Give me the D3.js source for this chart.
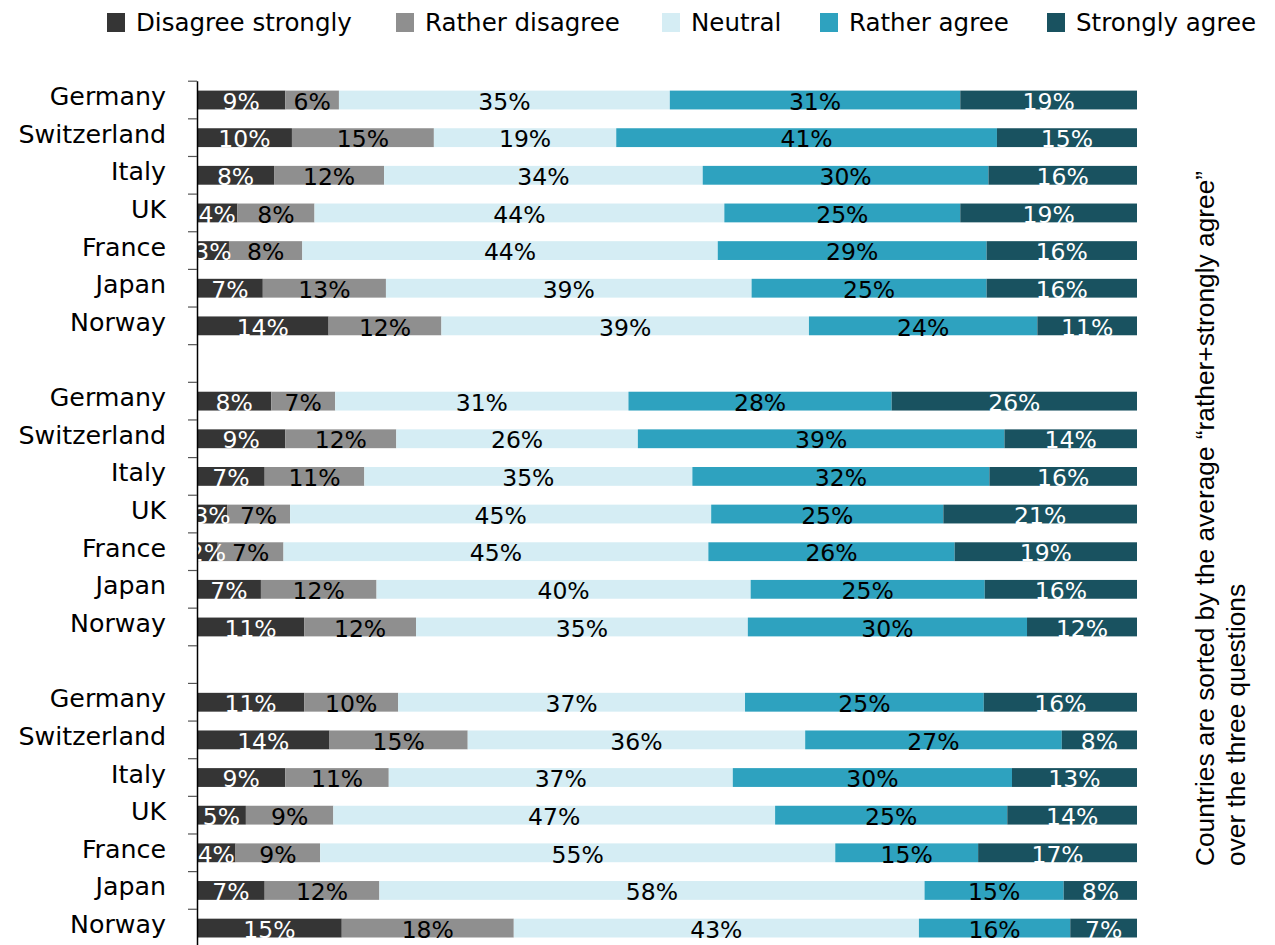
<!DOCTYPE html>
<html>
<head>
<meta charset="utf-8">
<script src="https://cdn.jsdelivr.net/npm/d3@7"></script>
<style>
  html, body { margin: 0; padding: 0; background: #fff; }
  svg { display: block; }
</style>
</head>
<body>
<svg id="chart" width="1275" height="945"></svg>
<script>
// ---- data ----
const countries = ["Germany", "Switzerland", "Italy", "UK", "France", "Japan", "Norway"];
const categories = ["Disagree strongly", "Rather disagree", "Neutral", "Rather agree", "Strongly agree"];
const colors = ["#353535", "#8f8f8f", "#d5edf4", "#2ea2bf", "#195260"];
const labelColors = ["#ffffff", "#000000", "#000000", "#000000", "#ffffff"];

// question 1 (rows follow countries, columns follow categories), percent
const question1 = [
  [9.4, 5.7, 35.2, 30.9, 18.8],
  [10.1, 15.1, 19.4, 40.5, 14.9],
  [8.2, 11.7, 33.9, 30.4, 15.8],
  [4.3, 8.2, 43.6, 25.1, 18.8],
  [3.4, 7.8, 44.2, 28.6, 16.0],
  [7.0, 13.1, 38.9, 25.0, 16.0],
  [14.0, 12.0, 39.1, 24.3, 10.6]
];
// question 2
const question2 = [
  [7.9, 6.8, 31.2, 28.0, 26.1],
  [9.4, 11.8, 25.7, 39.0, 14.1],
  [7.2, 10.6, 34.9, 31.6, 15.7],
  [3.2, 6.7, 44.8, 24.7, 20.6],
  [2.2, 7.0, 45.2, 26.2, 19.4],
  [6.8, 12.3, 39.8, 24.9, 16.2],
  [11.4, 11.9, 35.3, 29.7, 11.7]
];
// question 3
const question3 = [
  [11.4, 10.0, 36.9, 25.4, 16.3],
  [14.1, 14.7, 35.9, 27.3, 8.0],
  [9.4, 11.0, 36.6, 29.7, 13.3],
  [5.2, 9.3, 47.0, 24.7, 13.8],
  [4.1, 9.0, 54.8, 15.2, 16.9],
  [7.2, 12.2, 58.0, 14.8, 7.8],
  [15.4, 18.3, 43.1, 16.1, 7.1]
];
const noteLines = [
  "Countries are sorted by the average \u201crather+strongly agree\u201d",
  "over the three questions"
];

// ---- build rows ----
const groups = [question1, question2, question3];
const rows = [];
const slotKeys = [];
groups.forEach((g, gi) => {
  g.forEach((vals, ci) => {
    const key = "q" + gi + "_" + ci;
    slotKeys.push(key);
    rows.push({ key, country: countries[ci], values: vals });
  });
  if (gi < groups.length - 1) slotKeys.push("gap" + gi);
});

const svg = d3.select("#chart");
const FONT = "DejaVu Sans, sans-serif";

const x = d3.scaleLinear().domain([0, 100]).range([197, 1137]);
const y = d3.scaleBand().domain(slotKeys).range([81.2, 946.9])
  .paddingInner(0.5).paddingOuter(0.25);

// clip for bar labels (clipped at the axis)
svg.append("defs").append("clipPath").attr("id", "plotClip")
  .append("rect").attr("x", 198).attr("y", 60).attr("width", 1000).attr("height", 900);

// ---- bars ----
const rowG = svg.append("g").selectAll("g.row").data(rows).join("g").attr("class", "row");

rowG.each(function (d) {
  const g = d3.select(this);
  let acc = 0;
  const segs = d.values.map((v, i) => {
    const s = { i, v, x0: acc, x1: acc + v };
    acc += v;
    return s;
  });
  g.selectAll("rect").data(segs).join("rect")
    .attr("x", s => x(s.x0))
    .attr("y", y(d.key))
    .attr("width", s => x(s.x1) - x(s.x0))
    .attr("height", y.bandwidth())
    .attr("fill", s => colors[s.i]);
  g.append("g").attr("clip-path", "url(#plotClip)")
    .selectAll("text").data(segs).join("text")
    .attr("x", s => (x(s.x0) + x(s.x1)) / 2)
    .attr("y", y(d.key) + y.bandwidth() + 0.3)
    .attr("text-anchor", "middle")
    .attr("font-family", FONT)
    .attr("font-size", 23.5)
    .attr("fill", s => labelColors[s.i])
    .text(s => Math.round(s.v) + "%");
});

// ---- y axis ----
const yAxis = d3.axisLeft(y).tickSize(0).tickPadding(0)
  .tickFormat(k => { const r = rows.find(r => r.key === k); return r ? r.country : ""; });
const axG = svg.append("g").attr("transform", "translate(197,0)").call(yAxis);
axG.select(".domain").remove();
axG.selectAll(".tick text")
  .attr("x", -31)
  .attr("dy", null)
  .attr("y", 5)
  .attr("font-family", FONT)
  .attr("font-size", 25.3)
  .attr("fill", "#000");

// axis line & boundary ticks
const y0 = y.range()[0];
const boundaries = d3.range(slotKeys.length + 1).map(k => y0 + k * y.step());
svg.append("line")
  .attr("x1", 197.5).attr("x2", 197.5)
  .attr("y1", boundaries[0]).attr("y2", 945)
  .attr("stroke", "#000").attr("stroke-width", 1.5);
svg.append("g").selectAll("line").data(boundaries).join("line")
  .attr("x1", 188).attr("x2", 197)
  .attr("y1", d => d).attr("y2", d => d)
  .attr("stroke", "#555").attr("stroke-width", 1.2);

// ---- legend ----
const legendX = [107, 396, 662, 820, 1047];
const legend = svg.append("g");
categories.forEach((c, i) => {
  legend.append("rect").attr("x", legendX[i]).attr("y", 13).attr("width", 18).attr("height", 19)
    .attr("fill", colors[i]);
  legend.append("text").attr("x", legendX[i] + 29).attr("y", 31)
    .attr("font-family", FONT).attr("font-size", 24.5).attr("fill", "#000").text(c);
});

// ---- side note ----
const note = svg.append("g");
[1214, 1245].forEach((bx, i) => {
  note.append("text")
    .attr("transform", `translate(${bx},866) rotate(-90)`)
    .attr("text-anchor", "start")
    .attr("font-family", "Liberation Sans, Arial, sans-serif")
    .attr("font-size", 26.3)
    .attr("fill", "#000")
    .text(noteLines[i]);
});
</script>
</body>
</html>
